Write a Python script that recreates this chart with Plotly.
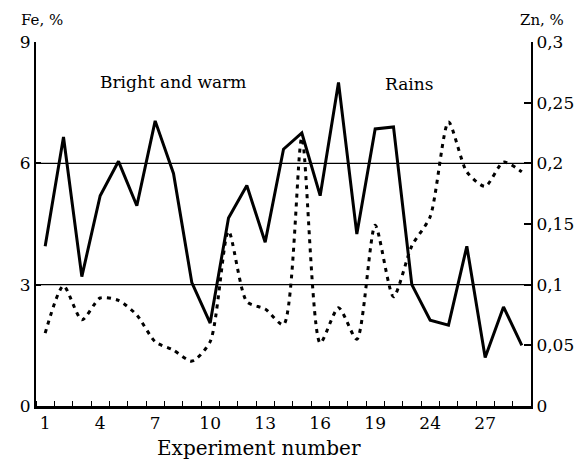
import plotly.graph_objects as go

experiment = list(range(1, 28))
fe = [3.95, 6.65, 3.2, 5.2, 6.05, 4.95, 7.05, 5.75, 3.05, 2.05, 4.65, 5.45, 4.05, 6.35,
      6.75, 5.2, 8.0, 4.25, 6.85, 6.9, 3.0, 2.12, 2.0, 3.95, 1.2, 2.45, 1.5]
zn = [0.060, 0.099, 0.071, 0.089, 0.087, 0.075, 0.053, 0.046, 0.037, 0.053, 0.144, 0.086,
      0.080, 0.067, 0.221, 0.052, 0.081, 0.055, 0.149, 0.090, 0.132, 0.156, 0.234, 0.193,
      0.181, 0.201, 0.193]

x_tickvals = [1, 4, 7, 10, 13, 16, 19, 22, 25]
x_ticktext = ["1", "4", "7", "10", "13", "16", "19", "24", "27"]
fe_ticks = [0, 3, 6, 9]
zn_ticks = [0, 0.05, 0.1, 0.15, 0.2, 0.25, 0.3]
zn_ticktext = ["0", "0,05", "0,1", "0,15", "0,2", "0,25", "0,3"]
ref_lines = [3, 6]

FONT = "DejaVu Serif, Liberation Serif, serif"

fig = go.Figure()
fig.add_trace(go.Scatter(x=experiment, y=zn, yaxis="y2", mode="lines",
                         line=dict(color="black", width=3, dash="4px,5px", shape="spline", smoothing=0.7),
                         showlegend=False))
fig.add_trace(go.Scatter(x=experiment, y=fe, mode="lines",
                         line=dict(color="black", width=3),
                         showlegend=False))

for v in ref_lines:
    fig.add_shape(type="line", xref="paper", x0=0, x1=1, yref="y", y0=v, y1=v,
                  line=dict(color="black", width=1.3), layer="below")

fig.update_layout(
    width=586, height=464,
    margin=dict(l=25, r=63, t=34, b=66),
    plot_bgcolor="white", paper_bgcolor="white",
    font=dict(family=FONT, size=17, color="black"),
    xaxis=dict(range=[0.5, 27.5], tickvals=x_tickvals, ticktext=x_ticktext,
               ticks="", showgrid=False, zeroline=False,
               showline=True, linecolor="black", linewidth=2.5,
               minor=dict(tick0=0.5, dtick=1, ticks="inside", ticklen=5, tickwidth=1.3, tickcolor="black"),
               tickfont=dict(size=17)),
    yaxis=dict(range=[0, 9], tickvals=fe_ticks, ticks="inside", ticklen=5, tickwidth=1.5,
               tickcolor="black", showgrid=False, zeroline=False,
               showline=True, linecolor="black", linewidth=2, tickfont=dict(size=17)),
    yaxis2=dict(range=[0, 0.3], tickvals=zn_ticks, ticktext=zn_ticktext, overlaying="y", side="right",
                ticks="inside", ticklen=7, tickwidth=1.5, tickcolor="black",
                showgrid=False, zeroline=False, showline=True, linecolor="black", linewidth=2,
                tickfont=dict(size=17)),
)

fig.add_annotation(text="Experiment number", xref="paper", yref="paper", x=0.45, y=0, yshift=-42,
                   xanchor="center", yanchor="middle", showarrow=False, font=dict(size=20))
fig.add_annotation(text="Fe, %", xref="paper", yref="paper", x=-0.034, y=1.0, yshift=22,
                   xanchor="left", yanchor="middle", showarrow=False, font=dict(size=15))
fig.add_annotation(text="Zn, %", xref="paper", yref="paper", x=0.974, y=1.0, yshift=22,
                   xanchor="left", yanchor="middle", showarrow=False, font=dict(size=15))
fig.add_annotation(text="Bright and warm", xref="paper", yref="paper", x=0.277, y=0.89,
                   xanchor="center", yanchor="middle", showarrow=False, font=dict(size=17))
fig.add_annotation(text="Rains", xref="paper", yref="paper", x=0.753, y=0.885,
                   xanchor="center", yanchor="middle", showarrow=False, font=dict(size=17))

fig.write_html("out.html")
